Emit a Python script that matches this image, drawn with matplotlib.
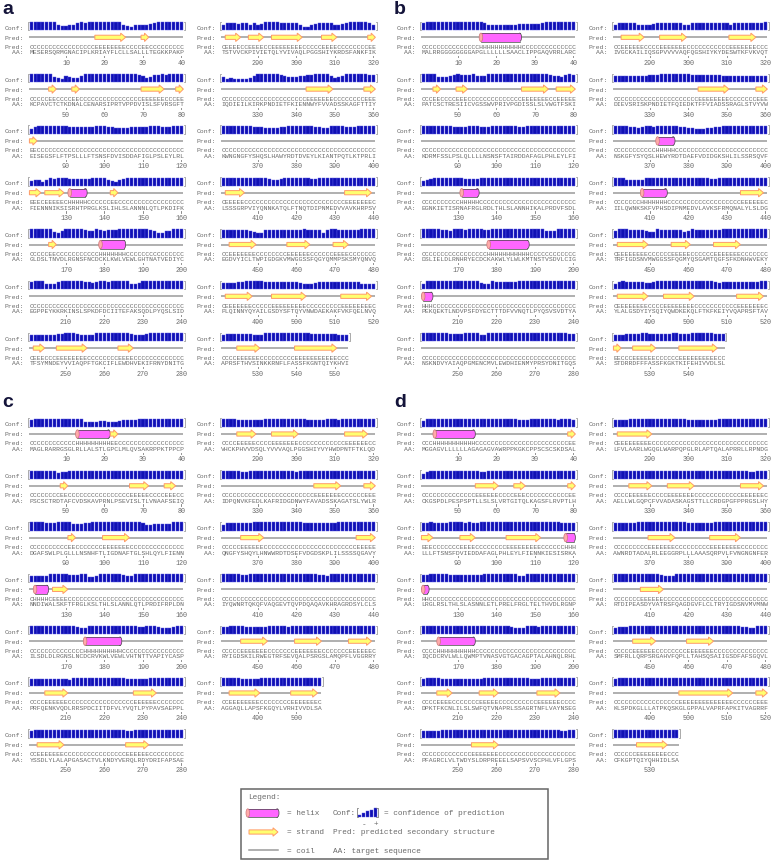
import matplotlib.pyplot as plt
from matplotlib.patches import Rectangle, Polygon, Ellipse

# ---------------------------------------------------------------
# PSIPRED style output, one list entry per 40-residue block
# ---------------------------------------------------------------
a_pred = ["CCCCCCCCCC" "CCCCCCCEEE" "EEEEECCCCE" "ECCCCCCCCC",
          "CCCCCEECCC" "CEECCCCCCC" "CCCCCCCCCE" "EEEEECCCEE",
          "EECCCCCCCC" "CCCCCCCCCC" "CCCCCCCCCC" "CCCCCCCCCC",
          "EEECEEEEEC" "HHHHHCCCCC" "CEECCCCCCC" "CCCCCCCCCC",
          "CCCCCEECCC" "CCCCCCCCHH" "HHHHHCCCCC" "CCCCCCCCCC",
          "CCCCCCCCCC" "CCCCCCCCCC" "CCCCCCCCCC" "CCCCCCCCCC",
          "CEEECCCEEE" "EEEEECCCCC" "CCCEEEECCC" "CCCCCCCCCC",
          "CEEEECCEEE" "ECCEEEEEEE" "ECCCCCEEEE" "CCCCCCCCEE",
          "CCCCCCCCCC" "CCCCCCCCCC" "CCEEEEEEEC" "CCCCCCCEEE",
          "CCCCCCCCCC" "CCCCCCCCCC" "CCCCCCCCCC" "CCCCCCCCCC",
          "CEEEEECCCC" "CCCCCCCCCC" "CCCCCCCCCC" "CCEEEEEEEC",
          "CCEEEEEEEC" "CCCCCCCEEE" "EEECCCCCCE" "EEECCCCCCC",
          "CEEEEEEECC" "CCCEEEEEEE" "EECCCCCCCC" "CEEEEEEEEC",
          "CCCCEEEEEE" "CCCCCCCCCE" "EEEEEEEEEE" "CCC"]
a_seq = ["MESERSQRMG" "NACIPLKRIA" "YFLCLLSALL" "LTEGKKPAKP",
         "KCPAVCTCTK" "DNALCENARS" "IPRTVPPDVI" "SLSFVRSGFT",
         "EISEGSFLFT" "PSLLLFTSNS" "FDVISDDAFI" "GLPSLEYLRL",
         "FIENNNIKSI" "SRHTPRGLKS" "LIHLSLANNN" "LQTLPKDIFK",
         "GLDSLTNVDL" "RGNSFNCDCK" "LKWLVEWLGH" "TNATVEDIYC",
         "EGPPEYKKRK" "INSLSPKDFD" "CIITEFAKSQ" "DLPYQSLSID",
         "TFSYMNDEYV" "VIAQPFTGKC" "IFLEWDHVEK" "IFRNYDNITG",
         "TSTVVCKPIV" "IETQLYVIVA" "QLPGGSHIYK" "RDSFANKFIK",
         "IQDIEILKIR" "KPNDIETFKI" "ENNWYFVVAD" "SSKAGFTTIY",
         "KWNGNGFYSH" "QSLHAWYRDT" "DVEYLKIANT" "PQTLKTPRLI",
         "LSSSGRPVIY" "QNNKATQLFT" "NQTDIPNMED" "VVAVKHRPSV",
         "EGDVYICLTW" "PIGDGKVMWG" "GSSFQGYQMM" "PSKSMYQNVQ",
         "PLQINNYQYA" "ILGSDYSFTQ" "YVNWDAEKAK" "FVKFQELNVQ",
         "APRSFTHVSI" "NKKRNFLFAS" "SFKGNTQIYK" "HVI"]
a_conf = ["9999999544" "5589899999" "9999643566" "5789999999",
          "9999995436" "5447999999" "9999999986" "4588989999",
          "5799999999" "8877788999" "8766667778" "8999888999",
          "5663687889" "7777778888" "6546789898" "8999999999",
          "9999996579" "9999877987" "8889999999" "9875577999",
          "8999655899" "9999887899" "8999996679" "9999999999",
          "6777776889" "9987767999" "9999998777" "8999999999",
          "5888788686" "7999988888" "5336788886" "5789999986",
          "5343333479" "9999987555" "6788999964" "5799999988",
          "9999999988" "7666677999" "9999876699" "9977899999",
          "8899988999" "9976679999" "9987799999" "8889999999",
          "8888888765" "5888888888" "8988885899" "8888889999",
          "7777889999" "9888888888" "7656788888" "8888886555",
          "7888888876" "6999999999" "9998888888" "777"]

b_pred = ["CCCCCCCCCC" "CCCCCHHHHH" "HHHHHHCCCC" "CCCCCCCCCC",
          "CCCEECCCCE" "EECCCCCCCC" "CCCCCCEEEE" "EEECCEEEEE",
          "CCCCCCCCCC" "CCCCCCCCCC" "CCCCCCCCCC" "CCCCCCCCCC",
          "CCCCCCCCCC" "HHHHHCCCCC" "CCCCCCCCCC" "CCCCCCCCCC",
          "CCCCCCCCCC" "CCCCCCCHHH" "HHHHHHHHCC" "CCCCCCCCCC",
          "HHHCCCCCCC" "CCCCCCCCCC" "CCCCCCCCCC" "CCCCCCCCCC",
          "CCCCCCCCCC" "CCCCCCCCCC" "CCCCCCCCCC" "CCCCCCCCCC",
          "CCEEEEEECC" "CCEEEEEEEC" "CCCCCCCCCC" "EEEEEEECCC",
          "CCCCCCCCCC" "CCCCCCCCCC" "CCEEEEEEEE" "CCCCCCCEEE",
          "CCCCCCCCCC" "CHHHHHCCCC" "CCCCCCCCCC" "CCCCCCCCCC",
          "CCCCCCCHHH" "HHHHCCCCCC" "CCCCCCCCCC" "CCCEEEEEEC",
          "CEEEEEEEEC" "CCCCCEEEEE" "CCCCCCEEEE" "EEECCCCCCC",
          "CEEEEEEEEC" "CCCEEEEEEE" "ECCCCCCCCC" "CCEEEEEEEC",
          "EECCCEEEEE" "ECCCCCCEEE" "EEEEEEECC"]
b_seq = ["MALRRGGGGG" "GGGAPGLLLL" "LLSAACLIPP" "GAQVRRLARC",
         "PATCSCTRES" "IICVGSSWVP" "RIVPGDISSL" "SLVWGTFSKI",
         "KDRMFSSLPS" "LQLLLLNSNS" "FTAIRDDAFA" "GLPHLEYLFI",
         "EGNKIETISR" "NAFRGLRDLT" "HLSLANNHIK" "ALPRDVFSDL",
         "DSLIELDLRN" "HRYECDCKAK" "WLYLWLKMTN" "STVSDVLCIG",
         "PEKQEKTLND" "VPSFDYECTT" "TDFVVNQTLP" "YQSVSVDTYA",
         "NSKNDVYAIA" "QPGMENCMVL" "EWDHIENMYP" "RSYDNITGQS",
         "IVGCKAILIQ" "SGPVVVVAQF" "QGSHIYKYDE" "SWTKFVKVQT",
         "DIEVSRISKP" "NDIETFQIED" "KTFFVIADSS" "RAGLSTVYVW",
         "NSKGFYSYQS" "LHEWYRDTDA" "EFVDIDGKSH" "LILSSRSQVF",
         "IILQWNKSKF" "VPHSDIPNME" "DVLAVKSFRM" "QNALYLSLDG",
         "TRFIGDSNVM" "WGGSSFQGMY" "QSGAMTQGFS" "FKDNHWVEKY",
         "YLALGSDYIY" "SQIYQWDKEK" "QLFTKFKEIY" "VQAPRSFTAV",
         "STDRRDFFFA" "SSFKGKTKIF" "EHIVVDLSL"]
b_conf = ["8999999999" "9999998666" "6666677777" "7899999999",
          "9999555689" "8889766999" "9999999999" "9998765898",
          "9999999988" "8899977799" "9999987999" "9999999999",
          "5678888988" "8777788899" "9999999998" "8899999999",
          "9999988799" "9899998899" "9999999999" "9977799999",
          "6999999999" "9999976698" "8888899999" "9999999999",
          "9999999888" "8999977999" "9999999999" "9999999988",
          "6888886666" "7888888866" "8888888888" "6888888889",
          "7776767778" "8899999999" "8888888877" "6777777766",
          "9999886899" "7999999876" "6555667899" "9999999999",
          "9996666688" "8899999999" "9999877999" "9999999888",
          "7999888876" "6988888867" "9888888899" "9999999999",
          "6898888877" "8999999999" "9999998788" "8888888899",
          "6778888998" "8888899888" "999999888"]

c_pred = ["CCCCCCCCCC" "CCHHHHHHHH" "HEECCCCCCC" "CCCCCCCCCC",
          "CCCCCCCCEE" "CCCCCCCCCC" "CCCCCCEEEE" "ECCCCEEECC",
          "CCCCCCCCCC" "EECCCCCCCE" "EEEEEECCCC" "CCCCCCCCCC",
          "CHHHHCEEEE" "CCCCCCCCCC" "CCCCCCCCCC" "CCCCCCCCCC",
          "CCCCCCCCCC" "CCCCHHHHHH" "HHHHCCCCCC" "CCCCCCCCCC",
          "CCCCEEEEEE" "CCCCCCCCCC" "CCCCCCCEEE" "EEECCCCCCC",
          "CCEEEEEEEC" "CCCCCCCCCC" "CCCCCEEEEE" "ECCCCCCCCC",
          "CCCCEEEEEC" "CCCEEEEEEE" "CCCCCCCCCC" "CCEEEEEECC",
          "CCCCCCCCCC" "CCCCCCCCCC" "CCCCEEEEEE" "ECCCCCCEEE",
          "CCCCCEEEEE" "ECCCCCCCCC" "CCCCCCCCCC" "CCCCCEEEEE",
          "CCCCCCCCCC" "CCCCCCCCCC" "CCCCCCCCCC" "CCCCCCCCCC",
          "CCCCCEEEEE" "EECCCCCCCE" "EEEEEECCCC" "CCCEEEEEEC",
          "CCEEEEEEEE" "CCCCCCCCEE" "EEEEEC"]
c_seq = ["MAGLRARRGS" "GLRLLALSTL" "GPCLMLQVSA" "KRPPKTPPCP",
         "PSCSCTRDTA" "FCVDSKAVPR" "NLPSEVISLT" "LVNAAFSEIQ",
         "DGAFSWLPLG" "LLLNSNHFTL" "IGDNAFTGLS" "HLQYLFIENN",
         "NNDIWALSKF" "TFRGLKSLTH" "LSLANNLQTL" "PRDIFRPLDN",
         "ILSDLDLRGN" "SLNCDCRVKW" "LVEWLVHTNT" "TVAPIYCASP",
         "PRFQENKVQD" "LRRSPDCIIT" "DFVLYVQTLP" "YPAVSAEPPL",
         "YSSDLYLALA" "PGASACTVLK" "NDYVERQLRD" "YDRIFAPSAE",
         "VHCKPHVVDS" "QLYVVVAQLP" "GGSHIYVYHW" "DPNTFTKLQD",
         "IDPQNVKFED" "LKAFRIDGDN" "WYFAVADSSK" "AGATSLYWLR",
         "QNGFYSHQYL" "HNWWRDTDSE" "FVDGDSKPLI" "LSSSSQGAVY",
         "IYQWNRTQKQ" "FVAQGEVTQV" "PDQAQAVKHR" "AGRDSYLCLS",
         "RYIGDSKILR" "WEGTRFSEVQ" "ALPSRGSLAM" "QPFLVGGRRY",
         "AGGAQLLAPS" "FKGQYLVRHI" "VVDLSA"]
c_conf = ["8999999999" "9999555566" "5556888899" "9999999999",
          "9999898677" "8888999999" "8888899999" "8998888899",
          "9999888999" "9777889999" "9999999998" "6677777999",
          "7777799999" "8889966799" "9999877999" "9999999999",
          "9999999999" "9987799999" "9999999988" "9998777899",
          "8888888777" "6999999999" "9999988888" "8999999999",
          "7999988888" "8899999999" "9999877999" "9999999999",
          "9999777788" "8999999999" "9988888999" "8999999999",
          "9999977999" "9999999997" "8999999999" "9999999999",
          "6888888899" "9999999999" "9888888888" "9999999999",
          "9999988999" "9999999999" "9999988799" "9999999999",
          "8899998888" "8899999899" "9999999999" "9999999999",
          "9999988888" "9999999999" "999999"]

d_pred = ["CCCHHHHHHH" "HHHHCCCCCC" "CCCCCCCCCC" "CCCCCCCCEE",
          "CCCCCCCCCC" "CCCCEEEEEE" "CCCCEEECCC" "CCCCCCCCEE",
          "EEECCCCCCC" "EEEECCCCCC" "CCEEEEEEEE" "ECCCCCCHHH",
          "HHCCCCCCCC" "CCCCCCCCCC" "CCCCCCCCCC" "CCCCCCCCCC",
          "CCCCHHHHHH" "HHHHCCCCCC" "CCCCCCCCCC" "CCCCCCCCCC",
          "CCCCEEEECC" "CCCCCEEEEE" "CCCCCCCCCC" "EEEEEECCCC",
          "CCCCCCCCCC" "CCCEEEEEEE" "CCCCCCCCCC" "CCCCCCCCCC",
          "CEEEEEEEEE" "CCCCCCCCCC" "CCCCCCCCCC" "CCCCCCCCCC",
          "CCCCEEEEEE" "CCCCEEEEEE" "ECCCCCCCCC" "CCCEEEEEEC",
          "CCCCCCCCCE" "EEEEEECCCC" "CCCCCEEEEE" "EEECCCCCCC",
          "CCCCCCCEEE" "EEECCCCCCC" "CCCCCCCCCC" "CCCCCCCCCC",
          "CCCCCEEEEE" "ECCCCCCCCE" "EEEEEECCCC" "CCCCCCCCCC",
          "CCCCCCCCCC" "CCCCCCCEEE" "EEEEEEEEEE" "ECCCCCCEEE",
          "CCCCCCEEEE" "EEEECCC"]
d_seq = ["MGGAGVLLLL" "LLAGAGAGVA" "WRPPKGKCPP" "SCSCSKDSAL",
         "CKGSPDLPES" "PSPTLLSLSL" "VRTGITQLKA" "GSFLRVPTLH",
         "LLLFTSNSFD" "VIEDDAFAGL" "PHLEYLFIEN" "NKIESISRKA",
         "LRGLRSLTHL" "SLASNNLETL" "PRELFRGLTE" "LTHVDLRGNP",
         "IQCDCRVLWL" "LQWMPTVNAS" "VGTGACAGPT" "ALAHNQLRHL",
         "DPKTFKCNLI" "LSLSWFQTVN" "APRLSSAGRT" "NFLVAYNSEG",
         "PFAGRCLVLT" "WDYSLDRPRE" "EELSAPSVVS" "CPHLVFLGPS",
         "LFVLAARLWG" "QGLWARPQPG" "LRLAPTQALA" "PRRLLRPNDG",
         "AELLWLGQPC" "FVVADASKAG" "STTLLCRDGP" "GFPPRGSLHY",
         "AWNRDTADAL" "RLEEGGRPLL" "LAAASQRPVL" "FVNGNGNFER",
         "RTDIPEASDY" "VATRSFQAGD" "GVFLCLTRYI" "GDSNVMVMNW",
         "SMFRLLQRPS" "RGAHVFQPLL" "TAHSQSAIIG" "SDFAFSGQVL",
         "KLSPDKGLLL" "ATPKQSKGLG" "PPALVAPRFA" "PKITVAGRRF",
         "CFKGPTQIYQ" "HHIDLSA"]
d_conf = ["6999999999" "9999999999" "9999987799" "9999989998",
          "5799999999" "9988877999" "9999999998" "8899999999",
          "8898888999" "9898899999" "9999999999" "9999998888",
          "8899999888" "8888889999" "9999977999" "9999999999",
          "9999999999" "9999999999" "9998777999" "8999999999",
          "8999988878" "8888889999" "9999999988" "8999999999",
          "7777788899" "9999999999" "8899999999" "9999987799",
          "8888999999" "9999999998" "8888888999" "9999999999",
          "9999988888" "8899999999" "9999999999" "9999977899",
          "8888889999" "9999999998" "8888889999" "9999999999",
          "9999999999" "9987779999" "9999999999" "9999999999",
          "7888999999" "9999999999" "9999999999" "9998877999",
          "8999999999" "9999999999" "9999999999" "9999999999",
          "9999988888" "9999999"]

# ---------------------------------------------------------------
CH = 3.85        # pixels per residue
COL_DX = 192     # right column offset
ROW_DY = 51.8    # block pitch
MONO = 'Liberation Mono'
FS = 4.62
GREY = '#6a6a6a'
BLUE = '#1010b4'


def runs(s):
    """Split a prediction string into (state, start, end) runs"""
    out = []
    i = 0
    while i < len(s):
        j = i
        while j < len(s) and s[j] == s[i]:
            j += 1
        out.append((s[i], i, j))
        i = j
    return out


def draw_strand(ax, x0, x1, y):
    hl = min(5.0, (x1 - x0) * 0.55)
    pts = [(x0, y - 2.1), (x1 - hl, y - 2.1), (x1 - hl, y - 4.2), (x1, y),
           (x1 - hl, y + 4.2), (x1 - hl, y + 2.1), (x0, y + 2.1)]
    ax.add_patch(Polygon(pts, closed=True, facecolor='#ffff70',
                         edgecolor='#ff9a6a', lw=0.7, zorder=3))


def draw_helix(ax, x0, x1, y):
    r = 1.8
    ax.add_patch(Ellipse((x1 - r, y), 2 * r, 8.4, facecolor='#ff66ff',
                         edgecolor='#444444', lw=0.5, zorder=3))
    ax.add_patch(Rectangle((x0 + r, y - 4.2), x1 - x0 - 2 * r, 8.4,
                           facecolor='#ff66ff', edgecolor='none', zorder=3))
    ax.plot([x0 + r, x1 - r], [y - 4.2, y - 4.2], color='#444444', lw=0.5, zorder=4)
    ax.plot([x0 + r, x1 - r], [y + 4.2, y + 4.2], color='#444444', lw=0.5, zorder=4)
    ax.add_patch(Ellipse((x0 + r, y), 2 * r, 8.4, facecolor='#ffaaaa',
                         edgecolor='#cc7777', lw=0.5, zorder=5))


def mono(ax, x, y, s, ha='left', size=FS, color=GREY):
    ax.text(x, y, s, ha=ha, va='center', family=MONO, fontsize=size, color=color)


def draw_block(ax, x, yc, pred, seq, conf, first):
    n = len(seq)
    # confidence bars
    mono(ax, x - 5.5, yc, 'Conf:', ha='right')
    base = yc + 3.0
    hts = [1.0 + int(c) * 0.8 for c in conf]
    xs = [x + (i + 0.5) * CH for i in range(len(conf))]
    ax.bar(xs, [-h for h in hts], bottom=base, width=CH * 0.8, color=BLUE,
           edgecolor='#5a5ae6', linewidth=0.3, zorder=2)
    for xb, d in ((x - 1.2, 1.0), (x + len(conf) * CH + 1.2, -1.0)):
        ax.plot([xb + d, xb, xb, xb + d], [base - 8.6, base - 8.6, base, base],
                color='#888888', lw=0.5)
    # cartoon
    yp = yc + 10
    mono(ax, x - 5.5, yp, 'Pred:', ha='right')
    ax.plot([x, x + len(pred) * CH], [yp, yp], color='#9a9a9a', lw=1.1,
            solid_capstyle='butt', zorder=2)
    for state, i, j in runs(pred):
        if state == 'E':
            draw_strand(ax, x + i * CH, x + j * CH, yp)
        elif state == 'H':
            draw_helix(ax, x + i * CH, x + j * CH, yp)
    # text rows
    mono(ax, x - 5.5, yc + 19, 'Pred:', ha='right')
    mono(ax, x, yc + 19, pred)
    mono(ax, x - 5.5, yc + 24.5, 'AA:', ha='right')
    mono(ax, x, yc + 24.5, seq)
    for k in range(n):
        res = first + k
        if res % 10 == 0:
            xx = x + (k + 0.5) * CH
            ax.plot([xx, xx], [yc + 28.6, yc + 29.8], color='#777777', lw=0.6)
            mono(ax, xx, yc + 35, str(res), ha='center', size=4.9)


def draw_panel(ax, label, x0, ylab, y0, preds, seqs, confs):
    ax.text(x0 + 2, ylab, label, ha='left', va='center', family='Liberation Sans',
            fontsize=14, fontweight='bold', color='#14143a')
    for b in range(len(seqs)):
        col, row = divmod(b, 7)
        draw_block(ax, x0 + 29.4 + col * COL_DX, y0 + row * ROW_DY,
                   preds[b], seqs[b], confs[b], b * 40 + 1)


fig = plt.figure(figsize=(7.78, 8.62), dpi=100)
ax = fig.add_axes([0, 0, 1, 1])
ax.set_xlim(0, 778)
ax.set_ylim(862, 0)
ax.axis('off')

draw_panel(ax, 'a', 0, 10, 28.3, a_pred, a_seq, a_conf)
draw_panel(ax, 'b', 392, 10, 28.3, b_pred, b_seq, b_conf)
draw_panel(ax, 'c', 0, 403, 425, c_pred, c_seq, c_conf)
draw_panel(ax, 'd', 392, 403, 425, d_pred, d_seq, d_conf)

# legend box
ax.add_patch(Rectangle((241, 790), 307, 70, facecolor='white', edgecolor='#666666', lw=1.1))
LFS = 5.6
mono(ax, 248, 798, 'Legend:', size=LFS)
draw_helix(ax, 246, 279, 814)
mono(ax, 287, 814, '= helix', size=LFS)
draw_strand(ax, 249, 278, 833)
mono(ax, 287, 833, '= strand', size=LFS)
ax.plot([249, 278], [851, 851], color='#9a9a9a', lw=1.1)
mono(ax, 287, 852, '= coil', size=LFS)

mono(ax, 333, 814, 'Conf:', size=LFS)
leg_conf = [1, 3, 5, 7, 9]
ax.bar([360 + 4 * i for i in range(len(leg_conf))], [-(1.0 + c * 0.9) for c in leg_conf],
       bottom=818, width=3.0, color=BLUE, edgecolor='#5a5ae6', linewidth=0.3)
ax.plot([358.5, 357, 357, 358.5], [809, 809, 818, 818], color='#666666', lw=0.5)
ax.plot([376.5, 378, 378, 376.5], [809, 809, 818, 818], color='#666666', lw=0.5)
mono(ax, 362, 825, '-', size=LFS)
mono(ax, 374, 825, '+', size=LFS)
mono(ax, 384, 814, '= confidence of prediction', size=LFS)
mono(ax, 333, 833, 'Pred: predicted secondary structure', size=LFS)
mono(ax, 333, 852, 'AA: target sequence', size=LFS)

fig.savefig('out.png', dpi=100)
